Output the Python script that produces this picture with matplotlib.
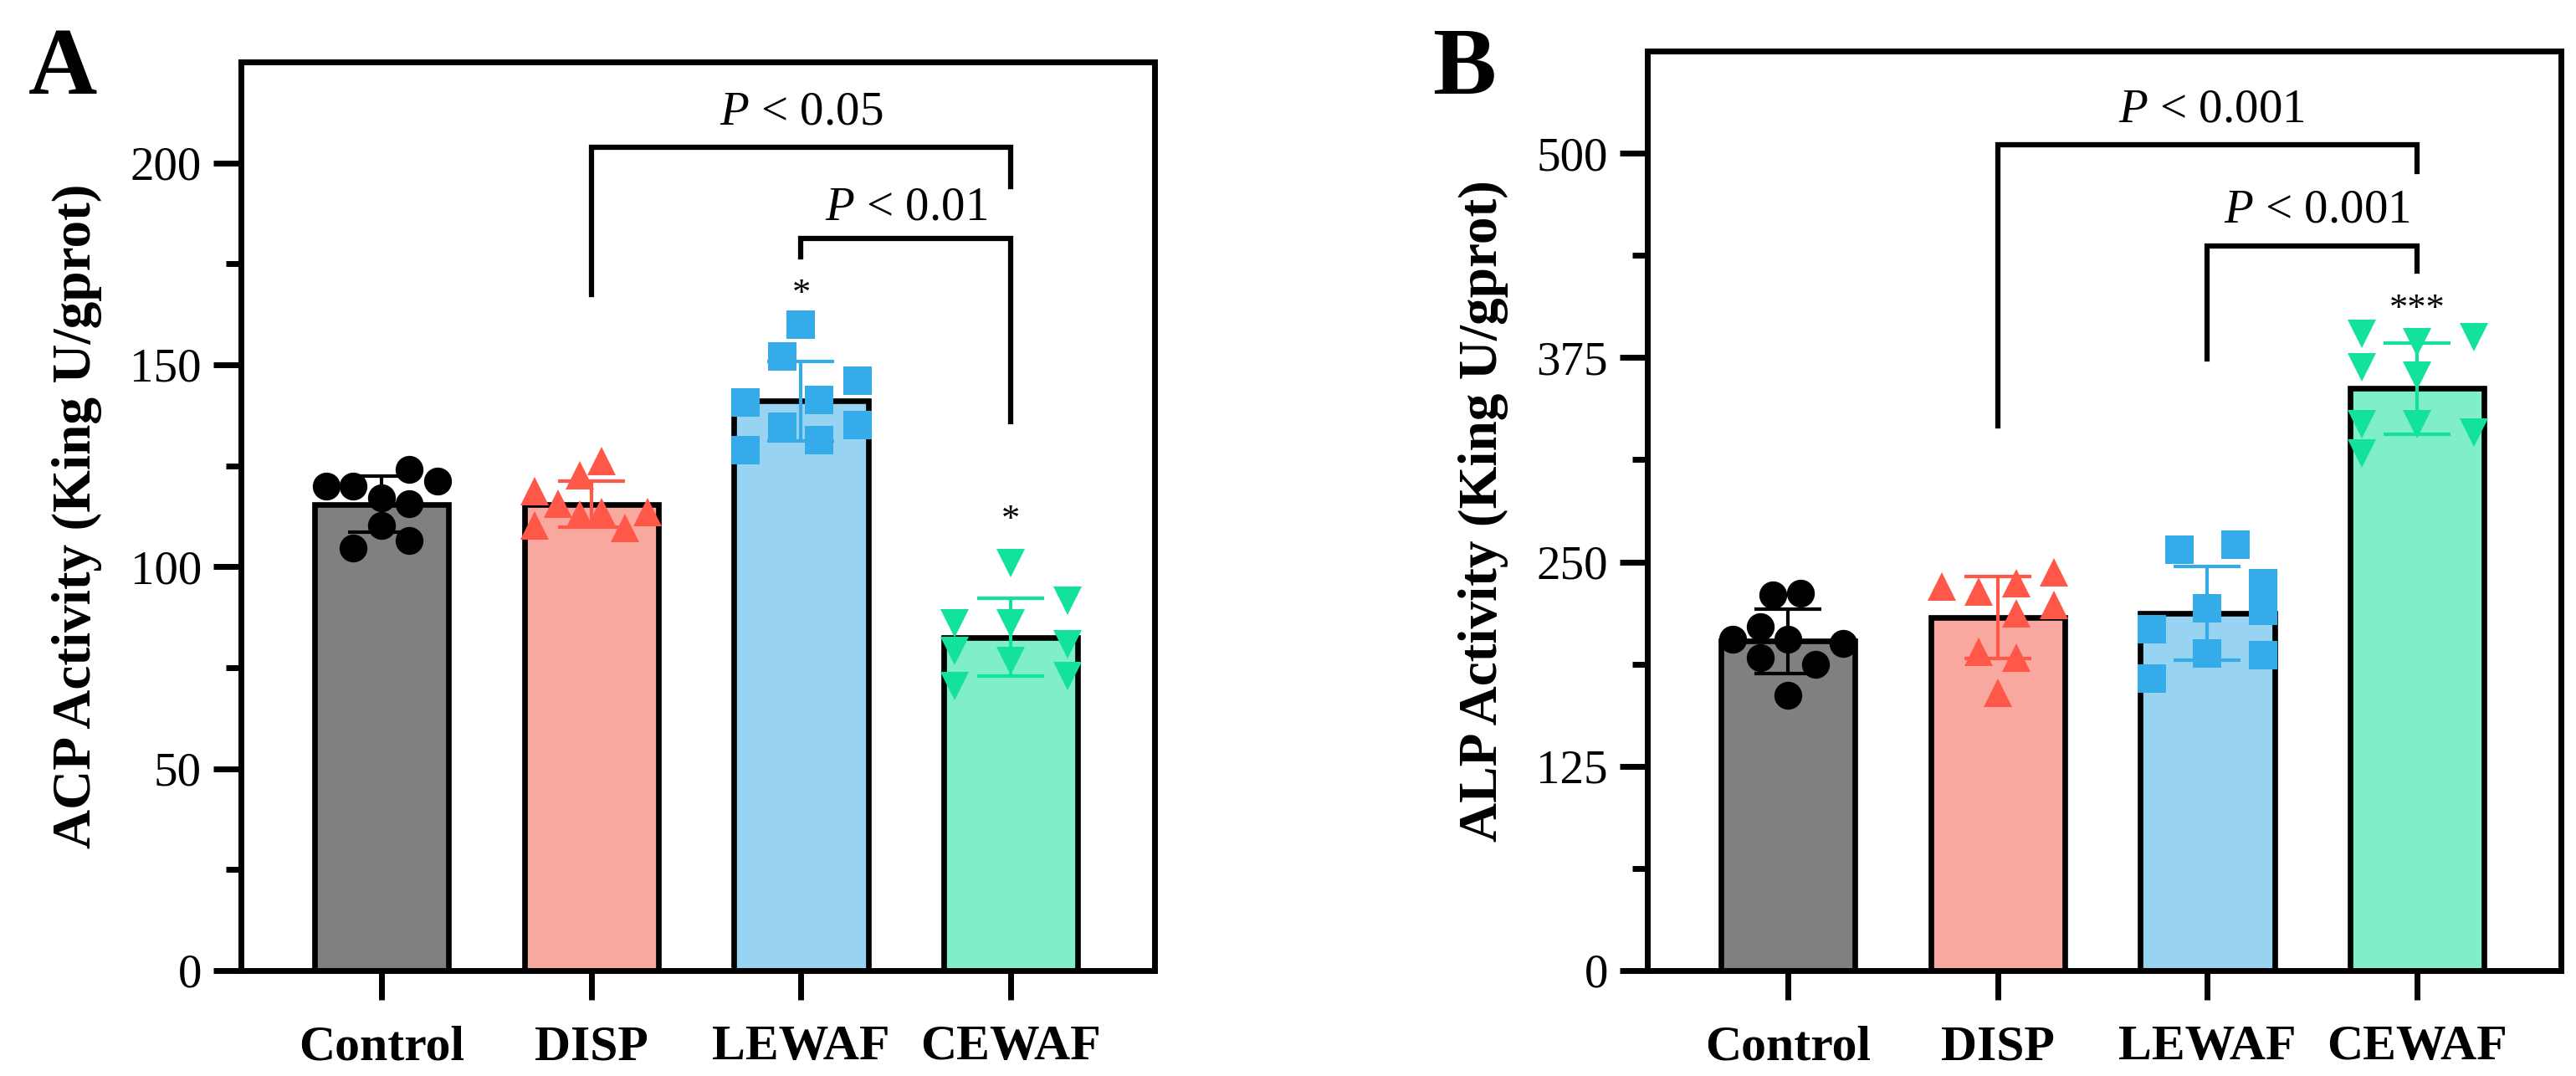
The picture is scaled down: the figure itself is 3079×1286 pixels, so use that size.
import numpy as np
import matplotlib.pyplot as plt

plt.rcParams['font.family'] = ['Liberation Serif', 'DejaVu Serif']
plt.rcParams['mathtext.fontset'] = 'custom'
plt.rcParams['mathtext.rm'] = 'Liberation Serif'
plt.rcParams['mathtext.it'] = 'Liberation Serif:italic'

groups = ["Control", "DISP", "LEWAF", "CEWAF"]

bar_fill = ["#808080", "#F9A8A0", "#98D4F2", "#80EFC8"]
pt_color = ["#000000", "#FF5748", "#36ABE9", "#12E29A"]
markers = ["o", "^", "s", "v"]

# ACP (panel A) - means, SD, individual points (x offset, value)
acp_mean = [115.5, 115.5, 141.0, 82.5]
acp_sd = [6.9, 5.7, 9.9, 9.6]
acp_pts = [
    [(-0.265, 119.9), (-0.135, 119.9), (0.0, 117.1), (0.133, 124.0), (0.266, 121.2),
     (0.133, 115.7), (0.0, 110.2), (-0.135, 104.7), (0.133, 106.4)],
    [(-0.27, 118.8), (-0.16, 115.7), (-0.055, 122.6), (0.05, 126.1), (-0.055, 113.0),
     (0.05, 113.6), (0.27, 113.6), (-0.27, 110.2), (0.16, 109.5)],
    [(0.0, 159.9), (-0.09, 152.0), (0.27, 146.1), (-0.265, 140.6), (0.087, 141.3),
     (-0.09, 134.7), (0.27, 135.1), (0.087, 131.3), (-0.265, 128.8)],
    [(0.0, 100.9), (0.27, 91.5), (-0.27, 86.0), (0.0, 86.0), (0.27, 80.8),
     (-0.27, 79.1), (0.0, 76.7), (0.27, 72.9), (-0.27, 70.5)],
]

# ALP (panel B)
alp_mean = [201.5, 216.0, 218.5, 356.0]
alp_sd = [19.7, 25.0, 28.7, 28.0]
alp_pts = [
    [(-0.073, 229.9), (0.06, 230.8), (-0.13, 210.3), (-0.265, 202.6), (0.0, 202.6),
     (0.265, 200.0), (-0.13, 191.4), (0.13, 187.2), (0.0, 168.4)],
    [(-0.265, 235.0), (-0.09, 231.9), (0.089, 236.8), (0.267, 243.6), (0.089, 218.8),
     (0.267, 223.9), (-0.09, 194.9), (0.089, 191.4), (0.0, 170.1)],
    [(-0.133, 257.3), (0.133, 260.7), (0.265, 236.8), (0.265, 220.2), (0.0, 221.4),
     (-0.265, 208.6), (0.0, 194.0), (0.265, 193.2), (-0.265, 178.4)],
    [(-0.265, 389.4), (0.0, 384.6), (0.27, 387.2), (-0.265, 368.9), (0.0, 363.7),
     (-0.265, 334.2), (0.0, 334.2), (0.27, 329.1), (-0.265, 316.3)],
]

# brackets: (x1, x2, top, left leg end, right leg end, label, text x, text y)
acp_brackets = [(1, 3, 203.9, 167.3, 194.2, "0.05", 2.0, 207.0),
                (2, 3, 181.2, 176.7, 135.9, "0.01", 2.5, 183.5)]
alp_brackets = [(1, 3, 505.3, 333.2, 488.9, "0.001", 2.02, 513.0),
                (2, 3, 443.4, 374.0, 427.9, "0.001", 2.52, 451.5)]

acp_stars = [(2, 167.5, "*"), (3, 111.4, "*")]
alp_stars = [(3, 404.3, "***")]

fig = plt.figure(figsize=(30.79, 12.86), dpi=100)
axA = fig.add_axes([288 / 3079, 1 - 1160 / 1286, (1380 - 288) / 3079, (1160 - 74) / 1286])
axB = fig.add_axes([1969 / 3079, 1 - 1160 / 1286, (3061 - 1969) / 3079, (1160 - 61) / 1286])


def draw_panel(ax, means, sds, pts, brackets, stars, ymax, major, ylabel, letter, lx):
    x = np.arange(len(groups))
    ax.bar(x, means, width=0.64, color=bar_fill, edgecolor="black",
           linewidth=4.8, zorder=2)
    for i in range(len(groups)):
        ax.errorbar(x[i], means[i], yerr=sds[i], color=pt_color[i], capsize=29,
                    elinewidth=3, capthick=3, zorder=3, fmt="none")
        px = [x[i] + p[0] for p in pts[i]]
        py = [p[1] for p in pts[i]]
        ax.plot(px, py, linestyle="none", marker=markers[i], markersize=24,
                color=pt_color[i], markeredgewidth=0, zorder=4, clip_on=False)
    for (x1, x2, top, l_end, r_end, lab, tx, ty) in brackets:
        ax.plot([x1, x1, x2, x2], [l_end, top, top, r_end], color="black",
                linewidth=4.5, solid_joinstyle="miter", zorder=5)
        ax.text(tx, ty, r"$P$ < " + lab, ha="center", va="bottom", fontsize=41)
    for (sx, sy, s) in stars:
        ax.text(sx, sy, s, ha="center", va="center", fontsize=32)

    ax.set_xlim(-0.67, 3.685)
    ax.set_ylim(0, ymax)
    ax.set_yticks(np.arange(0, ymax, major))
    ax.set_yticks(np.arange(major / 2, ymax, major), minor=True)
    ax.set_yticklabels([("%g" % v) for v in np.arange(0, ymax, major)])
    ax.set_xticks(x)
    ax.set_xticklabels(groups, fontweight="bold", fontsize=43)
    for sp in ax.spines.values():
        sp.set_linewidth(5)
    ax.tick_params(axis="y", which="major", length=24, width=5, labelsize=41, pad=10)
    ax.tick_params(axis="y", which="minor", length=13, width=5)
    ax.tick_params(axis="x", which="major", length=25, width=5, pad=22)
    ax.set_ylabel(ylabel, fontweight="bold", fontsize=47, labelpad=24)
    fig.text(lx, 0.975, letter, fontsize=82, fontweight="bold", ha="left", va="top")


draw_panel(axA, acp_mean, acp_sd, acp_pts, acp_brackets, acp_stars, 225, 50,
           "ACP Activity (King U/gprot)", "A", 34 / 3079)
draw_panel(axB, alp_mean, alp_sd, alp_pts, alp_brackets, alp_stars, 562.5, 125,
           "ALP Activity (King U/gprot)", "B", 1712 / 3079)

fig.savefig("out.png", dpi=100)
